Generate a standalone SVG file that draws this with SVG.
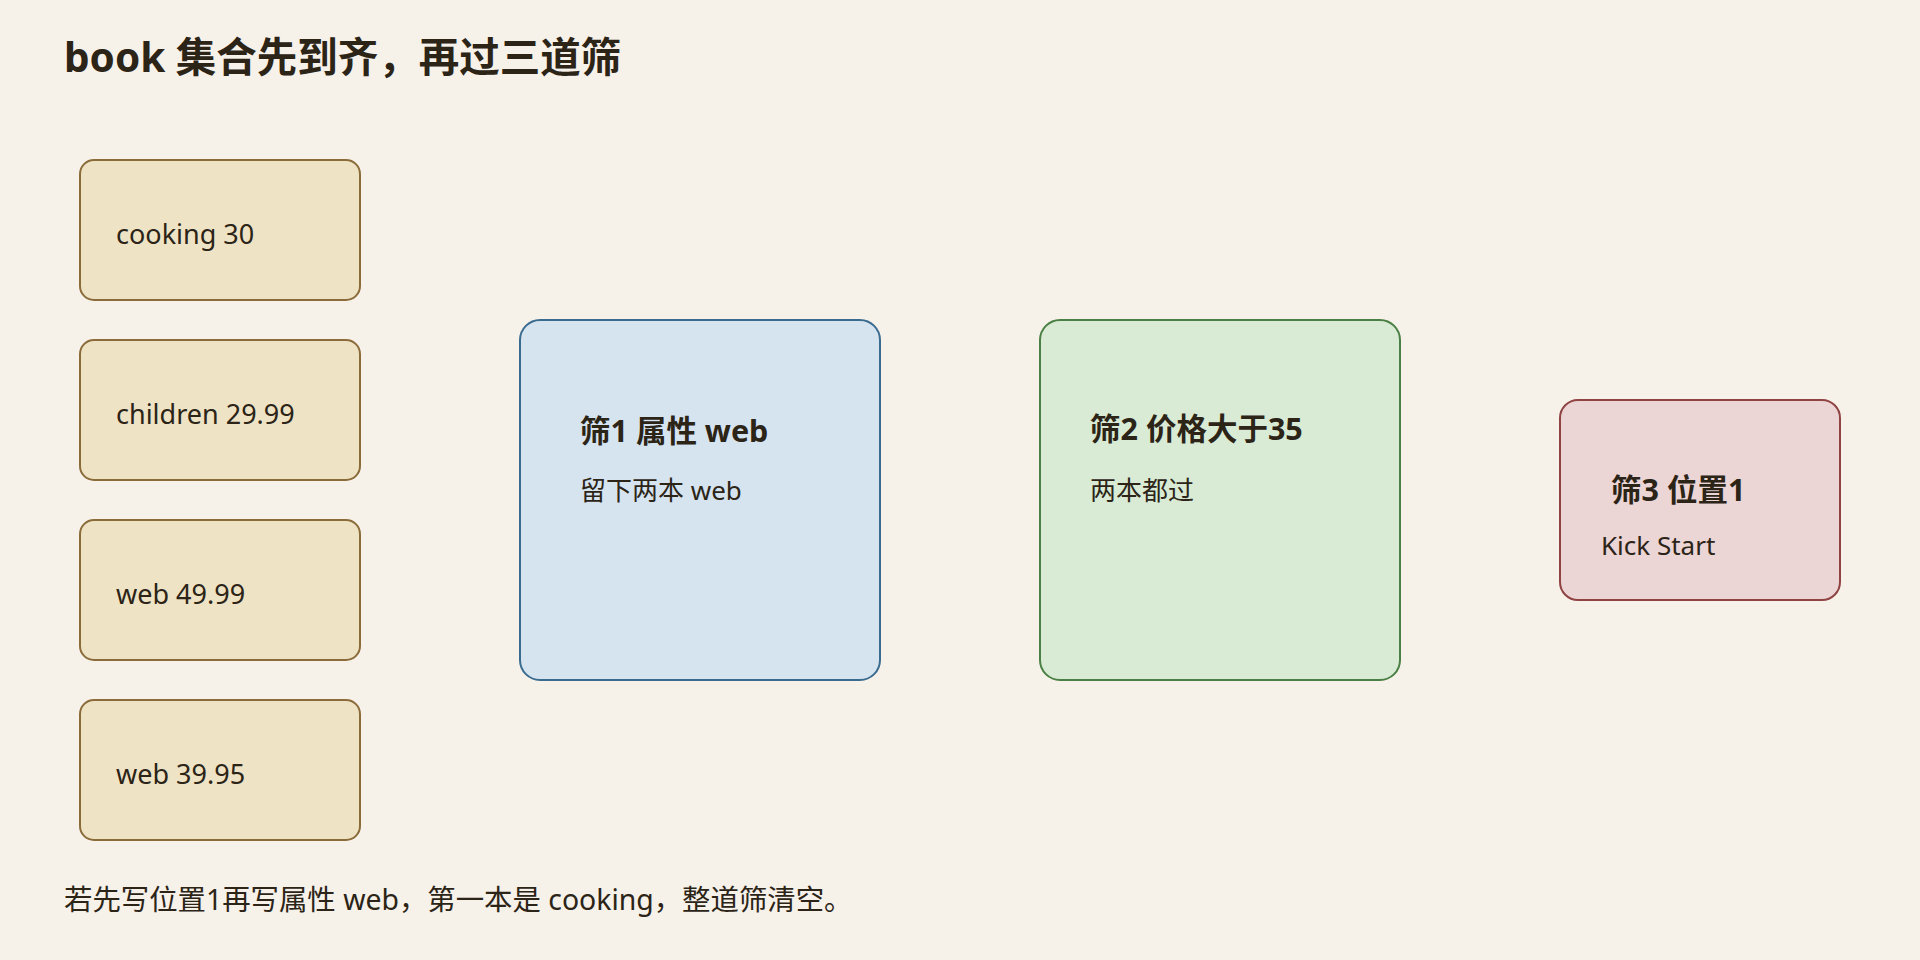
<svg xmlns="http://www.w3.org/2000/svg" width="1920" height="960" viewBox="0 0 1920 960">
  <style>
    text { font-family: "Noto Sans", "Noto Sans CJK SC", sans-serif; fill: #2b2417; }
    .title { font-size: 40.5px; font-weight: bold; }
    .book rect { fill: #efe3c5; stroke: #8b6b3a; stroke-width: 2; }
    .book text { font-size: 27px; }
    .head { font-size: 30.5px; font-weight: bold; }
    .sub { font-size: 26px; }
    .note { font-size: 28.4px; }
    #f1 rect { fill: #d6e4f0; stroke: #3b6b8f; stroke-width: 2; }
    #f2 rect { fill: #d9ebd4; stroke: #4a7f45; stroke-width: 2; }
    #f3 rect { fill: #ebd5d5; stroke: #8f4343; stroke-width: 2; }
  </style>
  <rect x="0" y="0" width="1920" height="960" fill="#f6f1e9"/>
  <text class="title" x="64" y="72">book 集合先到齐，再过三道筛</text>

  <g id="book1" class="book">
    <rect x="80" y="160" width="280" height="140" rx="14"/>
    <text x="116" y="244">cooking 30</text>
  </g>
  <g id="book2" class="book">
    <rect x="80" y="340" width="280" height="140" rx="14"/>
    <text x="116" y="424">children 29.99</text>
  </g>
  <g id="book3" class="book">
    <rect x="80" y="520" width="280" height="140" rx="14"/>
    <text x="116" y="604">web 49.99</text>
  </g>
  <g id="book4" class="book">
    <rect x="80" y="700" width="280" height="140" rx="14"/>
    <text x="116" y="784">web 39.95</text>
  </g>

  <g id="f1">
    <rect x="520" y="320" width="360" height="360" rx="20"/>
    <text class="head" x="580" y="442">筛1 属性 web</text>
    <text class="sub" x="580" y="500">留下两本 web</text>
  </g>
  <g id="f2">
    <rect x="1040" y="320" width="360" height="360" rx="20"/>
    <text class="head" x="1090" y="440">筛2 价格大于35</text>
    <text class="sub" x="1090" y="500">两本都过</text>
  </g>
  <g id="f3">
    <rect x="1560" y="400" width="280" height="200" rx="18"/>
    <text class="head" x="1611" y="501">筛3 位置1</text>
    <text class="sub" x="1601" y="555">Kick Start</text>
  </g>

  <g id="connectors"/>

  <text class="note" x="64" y="910">若先写位置1再写属性 web，第一本是 cooking，整道筛清空。</text>
</svg>
